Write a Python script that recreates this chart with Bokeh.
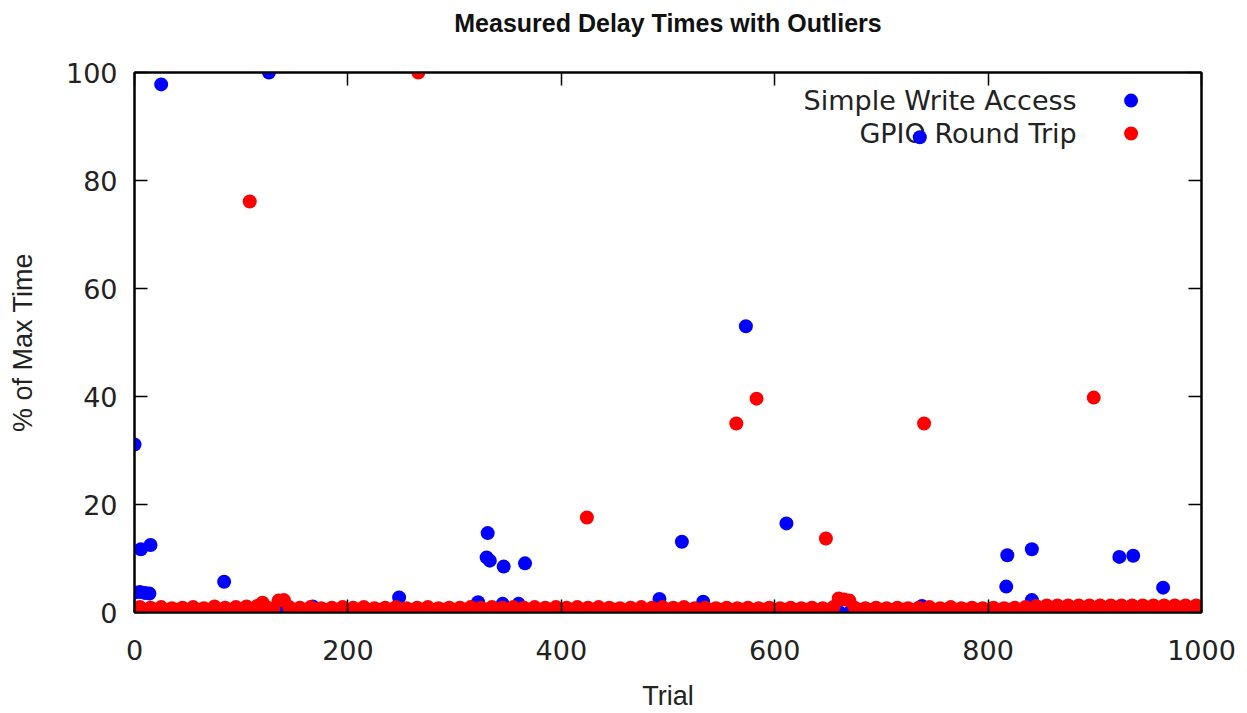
from bokeh.plotting import figure
from bokeh.models import LinearAxis, FixedTicker, Range1d, ColumnDataSource
from bokeh.core.properties import value
from bokeh.embed import file_html
from bokeh.resources import INLINE

# ---------------- data ----------------
title = "Measured Delay Times with Outliers"
x_label = "Trial"
y_label = "% of Max Time"
series_names = ["Simple Write Access", "GPIO Round Trip"]
x_ticks = [0, 200, 400, 600, 800, 1000]
y_ticks = [0, 20, 40, 60, 80, 100]

# GPIO Round Trip: the dense band near zero (every 5th trial)
red_base_trial = list(range(0, 1000, 5))
red_base_pct = [
    0.5, 1.0, 0.4, 0.9, 0.5, 1.0, 0.4, 0.8, 0.5, 0.9, 0.4, 1.0, 0.5, 0.8, 0.4, 1.1, 0.5, 0.9, 0.4, 1.0,
    0.5, 1.1, 0.5, 1.2, 1.8, 0.9, 0.5, 2.2, 2.3, 1.0, 0.5, 0.9, 0.4, 1.0, 0.5, 0.8, 0.4, 0.9, 0.5, 1.0,
    0.4, 0.9, 0.5, 1.0, 0.4, 0.8, 0.5, 0.9, 0.4, 1.0, 0.5, 0.8, 0.4, 0.9, 0.5, 1.0, 0.4, 0.8, 0.5, 0.9,
    0.4, 0.9, 0.5, 1.0, 0.4, 0.9, 0.5, 1.0, 0.4, 0.9, 0.5, 1.0, 0.4, 0.9, 0.5, 1.0, 0.4, 0.9, 0.5, 1.0,
    0.4, 0.9, 0.5, 1.0, 0.4, 0.9, 0.5, 1.0, 0.4, 0.9, 0.5, 0.8, 0.4, 0.9, 0.5, 1.0, 0.4, 0.9, 0.5, 1.0,
    0.4, 0.9, 0.5, 1.0, 0.4, 0.8, 0.5, 0.9, 0.4, 0.8, 0.5, 0.9, 0.4, 0.8, 0.5, 0.9, 0.4, 0.8, 0.5, 0.9,
    0.4, 0.8, 0.5, 0.9, 0.4, 0.8, 0.5, 0.9, 0.4, 0.8, 0.5, 1.0, 2.6, 2.4, 2.2, 0.9, 0.5, 0.8, 0.4, 0.9,
    0.5, 0.8, 0.4, 0.9, 0.5, 0.8, 0.4, 0.9, 0.5, 1.0, 0.4, 0.8, 0.5, 1.0, 0.4, 0.8, 0.5, 0.9, 0.4, 0.8,
    0.5, 0.9, 0.4, 0.8, 0.5, 0.9, 0.4, 1.0, 0.5, 1.2, 0.5, 1.3, 0.5, 1.3, 0.5, 1.3, 0.5, 1.3, 0.5, 1.3,
    0.5, 1.3, 0.5, 1.3, 0.5, 1.3, 0.5, 1.3, 0.5, 1.3, 0.5, 1.3, 0.5, 1.3, 0.5, 1.3, 0.5, 1.3, 0.5, 1.3,
]
# GPIO Round Trip: outliers
red_out_trial = [108, 266, 424, 564, 583, 648, 740, 899]
red_out_pct = [76.1, 100.0, 17.6, 35.0, 39.6, 13.7, 35.0, 39.8]

# Simple Write Access: baseline near zero (every 10th trial, mostly hidden)
blue_base_trial = list(range(0, 1000, 10))
blue_base_pct = [
    0.1, 0.0, 0.2, 0.1, 0.0, 0.1, 0.2, 0.0, 0.1, 0.0,
    0.1, 0.2, 0.0, 0.1, 0.0, 0.1, 0.0, 0.2, 0.1, 0.0,
    0.1, 0.0, 0.1, 0.2, 0.0, 0.1, 0.0, 0.1, 0.0, 0.2,
    0.1, 0.0, 0.1, 0.0, 0.2, 0.1, 0.0, 0.1, 0.0, 0.1,
    0.2, 0.0, 0.1, 0.0, 0.1, 0.0, 0.2, 0.1, 0.0, 0.1,
    0.0, 0.1, 0.2, 0.0, 0.1, 0.0, 0.1, 0.0, 0.2, 0.1,
    0.0, 0.1, 0.0, 0.1, 0.2, 0.0, 0.1, 0.0, 0.1, 0.0,
    0.2, 0.1, 0.0, 0.1, 0.0, 0.1, 0.2, 0.0, 0.1, 0.0,
    0.1, 0.0, 0.2, 0.1, 0.0, 0.1, 0.0, 0.1, 0.2, 0.0,
    0.1, 0.0, 0.1, 0.0, 0.2, 0.1, 0.0, 0.1, 0.0, 0.3,
]
# Simple Write Access: outliers
blue_out_trial = [0, 0, 5, 10, 14, 6, 15, 25, 126, 84, 167, 248, 331, 330, 333, 346, 366,
                  322, 345, 360, 492, 513, 533, 573, 611, 736, 738, 817, 818, 841, 841,
                  923, 936, 964, 999]
blue_out_pct = [31.1, 3.7, 3.8, 3.6, 3.5, 11.7, 12.5, 97.8, 100.0, 5.7, 1.1, 2.8, 14.7, 10.2, 9.6, 8.5, 9.1,
                1.9, 1.6, 1.6, 2.5, 13.1, 2.0, 53.0, 16.5, 88.0, 1.2, 4.8, 10.6, 11.7, 2.3,
                10.3, 10.5, 4.6, 0.5]

BLUE = "#0000ff"
RED = "#ff0000"
TEXT = "#222222"

# ---------------- figure ----------------
p = figure(width=1243, height=713, output_backend="svg", toolbar_location=None,
           x_range=Range1d(0, 1000), y_range=Range1d(0, 100),
           min_border_left=134, min_border_right=42, min_border_top=72, min_border_bottom=101)
p.xgrid.visible = False
p.ygrid.visible = False
p.outline_line_color = "black"
p.outline_line_width = 2
p.background_fill_color = "white"
p.border_fill_color = "white"

def style_axis(ax, ticks, show_labels):
    ax.ticker = FixedTicker(ticks=ticks)
    ax.axis_line_color = "black"
    ax.axis_line_width = 2
    ax.major_tick_in = 13
    ax.major_tick_out = 0
    ax.major_tick_line_color = "black"
    ax.major_tick_line_width = 1.5
    ax.minor_tick_line_color = None
    ax.major_label_text_font = "DejaVu Sans"
    ax.major_label_text_font_size = "27px"
    ax.major_label_text_color = TEXT
    if not show_labels:
        ax.major_label_overrides = {t: "" for t in ticks}
        ax.major_label_standoff = 0

xa = p.xaxis[0]
style_axis(xa, x_ticks, True)
xa.major_label_standoff = 27
xa.axis_label = x_label
xa.axis_label_text_font = "Liberation Sans"
xa.axis_label_text_font_style = "normal"
xa.axis_label_text_font_size = "27px"
xa.axis_label_text_color = TEXT
xa.axis_label_standoff = 18

ya = p.yaxis[0]
style_axis(ya, y_ticks, True)
ya.major_label_standoff = 17
ya.axis_label = y_label
ya.axis_label_text_font = "Liberation Sans"
ya.axis_label_text_font_style = "normal"
ya.axis_label_text_font_size = "27px"
ya.axis_label_text_color = TEXT
ya.axis_label_standoff = 25

# mirror axis on top carries the chart title
top_ax = LinearAxis()
style_axis(top_ax, x_ticks, False)
top_ax.axis_label = title
top_ax.axis_label_text_font = "Liberation Sans"
top_ax.axis_label_text_font_style = "bold"
top_ax.axis_label_text_font_size = "25px"
top_ax.axis_label_text_color = "#111111"
top_ax.axis_label_standoff = 36
p.add_layout(top_ax, "above")

right_ax = LinearAxis()
style_axis(right_ax, y_ticks, False)
p.add_layout(right_ax, "right")

# ---------------- key (text left of marker, gnuplot style) ----------------
key_text_x = 883
key_mark_x = 934
key_rows_y = [94.8, 88.7]
p.text(x=[key_text_x, key_text_x], y=key_rows_y, text=series_names,
       text_align="right", text_baseline="middle",
       text_font=value("DejaVu Sans"), text_font_size="27px", text_color=TEXT)
p.scatter(x=[key_mark_x, key_mark_x], y=key_rows_y, size=14,
          fill_color=[BLUE, RED], line_color=None)

# ---------------- data marks ----------------
blue_src = ColumnDataSource(dict(trial=blue_base_trial + blue_out_trial,
                                 pct=blue_base_pct + blue_out_pct))
red_src = ColumnDataSource(dict(trial=red_base_trial + red_out_trial,
                                pct=red_base_pct + red_out_pct))
p.scatter("trial", "pct", source=blue_src, size=14, fill_color=BLUE, line_color=None)
p.scatter("trial", "pct", source=red_src, size=14, fill_color=RED, line_color=None)

open("out.html", "w").write(file_html(p, INLINE))
